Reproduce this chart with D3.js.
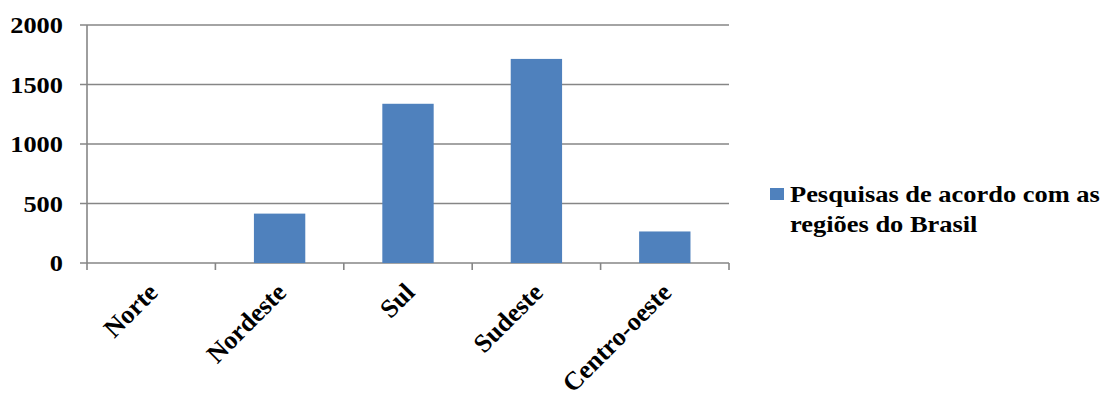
<!DOCTYPE html>
<html>
<head>
  <meta charset="utf-8">
  <title>Pesquisas por região</title>
  <script src="https://cdn.jsdelivr.net/npm/d3@7/dist/d3.min.js"></script>
  <style>
    body { margin: 0; background: #fff; }
    text { font-family: "Liberation Serif", "Times New Roman", serif; font-weight: bold; fill: #000; }
  </style>
</head>
<body>
<svg width="1105" height="394"></svg>
<script>
  const regioes = ['Norte', 'Nordeste', 'Sul', 'Sudeste', 'Centro-oeste'];
  const pesquisas = [0, 415, 1338, 1715, 265];
  const yTicks = [0, 500, 1000, 1500, 2000];

  const svg = d3.select('svg');
  const plotLeft = 87, plotRight = 729, plotTop = 25, plotBottom = 263;

  const x = d3.scaleBand().domain(regioes).range([plotLeft, plotRight]);
  const y = d3.scaleLinear().domain([0, 2000]).range([plotBottom, plotTop]);

  // grid
  svg.append('g').selectAll('line').data(yTicks).enter().append('line')
    .attr('x1', plotLeft - 7).attr('x2', plotRight)
    .attr('y1', d => y(d)).attr('y2', d => y(d))
    .attr('stroke', '#868686').attr('stroke-width', 1.6);

  // y axis line
  svg.append('line')
    .attr('x1', plotLeft).attr('x2', plotLeft).attr('y1', plotTop).attr('y2', plotBottom)
    .attr('stroke', '#868686').attr('stroke-width', 1.6);

  // category ticks
  const bounds = regioes.map(r => x(r)).concat([plotRight]);
  svg.append('g').selectAll('line').data(bounds).enter().append('line')
    .attr('x1', d => d).attr('x2', d => d)
    .attr('y1', plotBottom).attr('y2', plotBottom + 7)
    .attr('stroke', '#868686').attr('stroke-width', 1.6);

  // bars
  const bw = x.bandwidth() * 0.4;
  svg.append('g').selectAll('rect').data(pesquisas).enter().append('rect')
    .attr('x', (d, i) => x(regioes[i]) + (x.bandwidth() - bw) / 2)
    .attr('width', bw)
    .attr('y', d => y(d))
    .attr('height', d => plotBottom - y(d))
    .attr('fill', '#4F81BD');

  // y labels (source image is a bit stretched horizontally)
  svg.append('g').selectAll('text').data(yTicks).enter().append('text')
    .attr('transform', d => `translate(${plotLeft - 24},${y(d)}) scale(1.1,1)`)
    .attr('dy', '0.35em')
    .attr('text-anchor', 'end')
    .style('font-size', '24px')
    .text(d => d);

  // x labels
  svg.append('g').selectAll('text').data(regioes).enter().append('text')
    .attr('transform', d => `translate(${x(d) + x.bandwidth() / 2 + 8},${plotBottom + 31}) rotate(-45)`)
    .attr('text-anchor', 'end')
    .style('font-size', '26px')
    .text(d => d);

  // legend
  const lg = svg.append('g');
  lg.append('rect').attr('x', 770).attr('y', 188).attr('width', 14).attr('height', 12).attr('fill', '#4F81BD');
  const lt = lg.append('text').attr('transform', 'translate(790,202) scale(1.15,1)').style('font-size', '23px');
  lt.append('tspan').attr('x', 0).text('Pesquisas de acordo com as');
  lt.append('tspan').attr('x', 0).attr('dy', 30).text('regiões do Brasil');
</script>
</body>
</html>
